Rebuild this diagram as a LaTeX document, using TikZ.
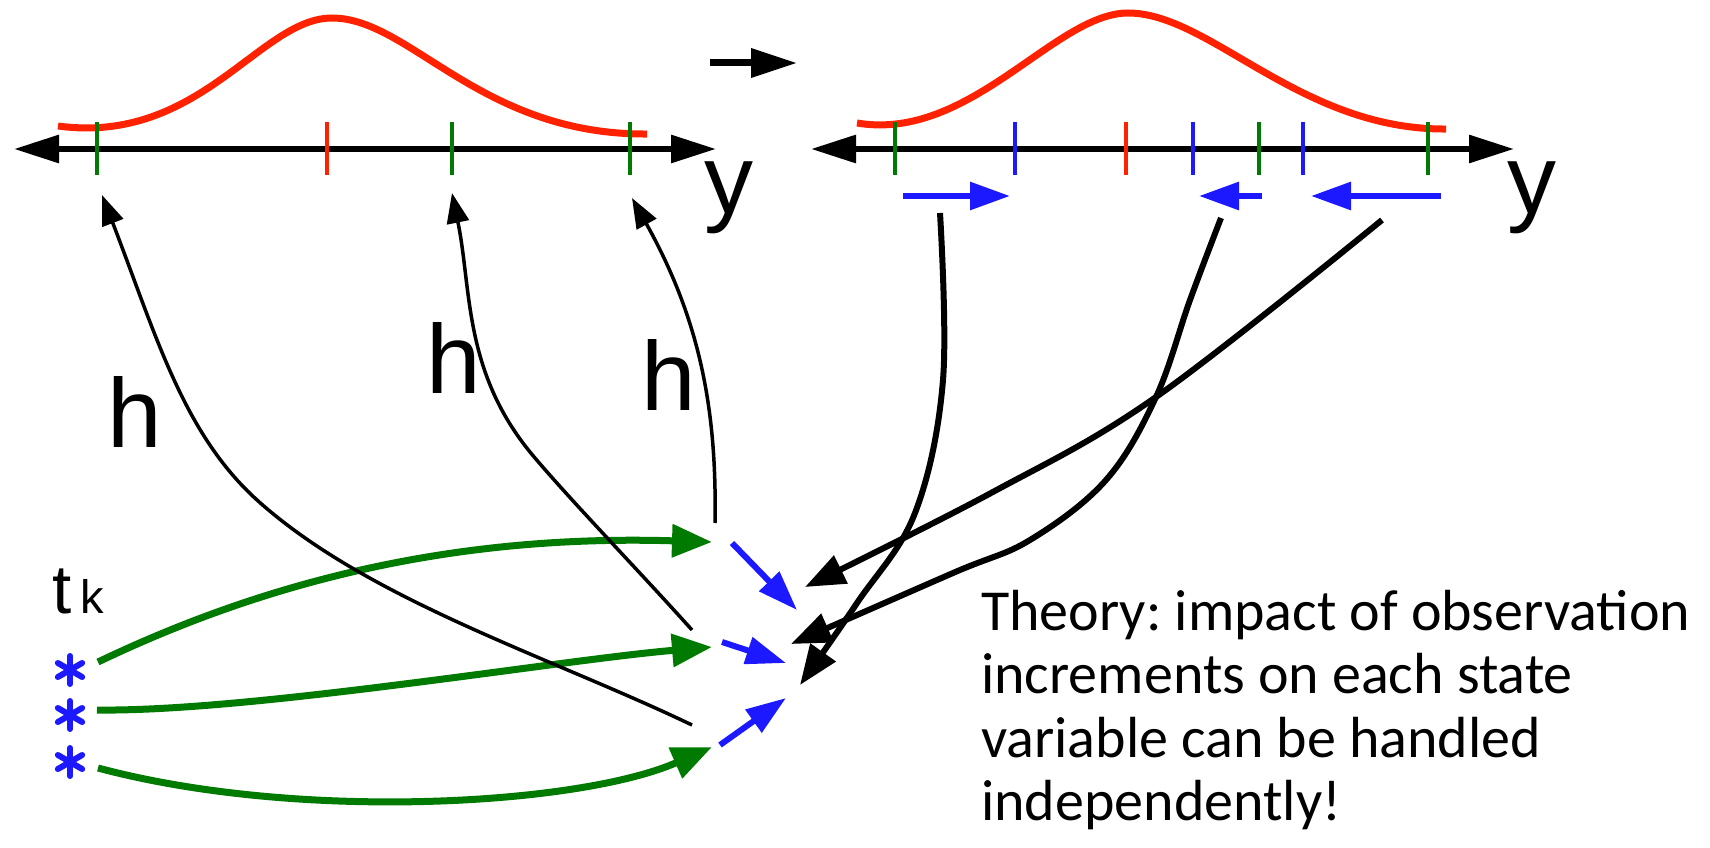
\documentclass[tikz,border=0pt]{standalone}
\usepackage{fontspec}
\setmainfont{Carlito}
\newfontfamily\helv{Liberation Sans}
\usepackage{xcolor}
\usepackage{tikz}
\usetikzlibrary{arrows.meta,calc}
\definecolor{pdfred}{RGB}{255,34,0}
\definecolor{obsgreen}{RGB}{0,122,0}
\definecolor{incblue}{RGB}{28,24,255}
\tikzset{
  axis/.style  ={line width=6pt, {Triangle[length=45pt,width=27pt]}-{Triangle[length=45pt,width=27pt]}},
  tk/.style    ={line width=4.5pt},
  pdf/.style   ={line width=7pt, draw=pdfred},
  fwd/.style   ={-{Triangle[length=46pt,width=28pt]}, line width=7pt},
  harr/.style  ={-{Triangle[length=30pt,width=22pt]}, line width=3.5pt},
  karr/.style  ={-{Triangle[length=40pt,width=30pt]}, line width=6pt},
  garr/.style  ={-{Triangle[length=40pt,width=32pt]}, line width=7pt, draw=obsgreen},
  barr/.style  ={-{Triangle[length=40pt,width=27pt]}, line width=6pt, draw=incblue},
  lbl/.style   ={inner sep=0pt, anchor=base west, font=\helv\fontsize{98}{98}\selectfont},
  spoke/.style ={line width=6pt, line cap=round, draw=incblue},
}
\frenchspacing
\begin{document}
\begin{tikzpicture}[x=1pt, y=-1pt]
  \useasboundingbox (0,0) rectangle (1710,848);
  % the two y axes
  \coordinate (lax-l) at (14,149);
  \coordinate (lax-r) at (716,149);
  \coordinate (rax-l) at (811,149);
  \coordinate (rax-r) at (1514,149);
  \draw[axis] (lax-l) -- (lax-r);
  \draw[axis] (rax-l) -- (rax-r);
  % prior / posterior
  \draw[pdf] (58,126) .. controls (200,145) and (260,18) .. (332,18)
             .. controls (410,18) and (480,135) .. (647,134);
  \draw[pdf] (857,123) .. controls (970,142) and (1055,13) .. (1128,13)
             .. controls (1210,13) and (1300,130) .. (1446,129);
  \foreach \x/\c in {97/obsgreen, 327/pdfred, 452/obsgreen, 630/obsgreen,
                     895/obsgreen, 1015/incblue, 1126/pdfred, 1193/incblue,
                     1259/obsgreen, 1303/incblue, 1428/obsgreen}
    \draw[tk, draw=\c] (\x,122) -- (\x,175);
  \node[lbl] (y1) at (704,213) {y};
  \node[lbl] (y2) at (1507,213) {y};
  % step arrow
  \coordinate (go-a) at (710,63);
  \coordinate (go-b) at (797,63);
  \draw[fwd] (go-a) -- (go-b);
  % increments
  \draw[barr] (903,196) coordinate (inc1) -- (1010,196);
  \draw[barr] (1262,196) coordinate (inc2) -- (1199,196);
  \draw[barr] (1441,196) coordinate (inc3) -- (1311,196);
  % ensemble members
  \node[inner sep=0pt, anchor=base west, font=\helv] (tk) at (52,613)
    {\fontsize{69}{69}\selectfont t\hspace{9pt}\fontsize{47}{47}\selectfont k};
  \coordinate (s1) at (70,670);
  \coordinate (s2) at (70,715);
  \coordinate (s3) at (70,762);
  \foreach \s in {s1,s2,s3}
    \foreach \a in {30,90,150}
      \draw[spoke] ($(\s)+(\a:14)$) -- ($(\s)+(\a+180:14)$);
  \coordinate (m1) at (712,542);
  \coordinate (m2) at (712,647);
  \coordinate (m3) at (712,747);
  \draw[garr] (98,662) .. controls (290,570) and (480,535) .. (m1);
  \draw[garr] (97,710) .. controls (250,712) and (560,660) .. (m2);
  \draw[garr] (98,768) .. controls (300,822) and (580,805) .. (m3);
  % h: state -> obs space
  \node[lbl] (h1) at (107,447) {h};
  \node[lbl] (h2) at (426,393) {h};
  \node[lbl] (h3) at (641,410) {h};
  \coordinate (o1) at (102,195);
  \coordinate (o2) at (452,193);
  \coordinate (o3) at (632,198);
  \draw[harr] (692,725) .. controls (548,656) and (368,600) .. (257,500)
              .. controls (183,433) and (156,335) .. (o1);
  \draw[harr] (692,630) .. controls (640,572) and (575,505) .. (535,458)
              .. controls (463,374) and (472,291) .. (o2);
  \draw[harr] (715,523) .. controls (717,410) and (700,320) .. (o3);
  % update of the state
  \draw[barr] (732,543) -- (797,610);
  \draw[barr] (722,642) -- (786,663);
  \draw[barr] (720,745) -- (786,698);
  \draw[karr] plot[smooth, tension=0.6] coordinates {(1382,220) (1156,397) (991,493) (805,587)};
  \draw[karr] plot[smooth, tension=0.6] coordinates {(1221,218) (1190,300) (1156,397) (1106,480) (1030,540) (953,573) (791,644)};
  \draw[karr] plot[smooth, tension=0.6] coordinates {(940,213) (943,380) (915,513) (857,603) (800,685)};
  \node[inner sep=0pt, anchor=north west, align=left, font=\fontsize{58}{63.5}\selectfont] (note) at (981,590)
    {Theory: impact of observation\\increments on each state\\variable can be handled\\independently!};
\end{tikzpicture}
\end{document}
